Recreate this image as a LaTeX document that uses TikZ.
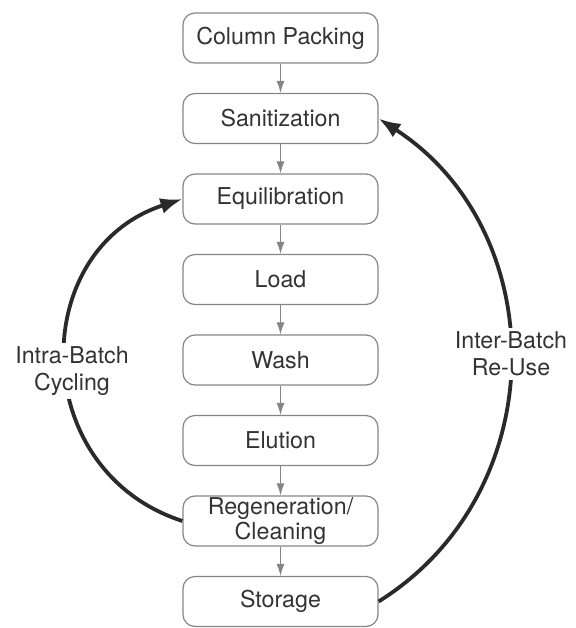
\documentclass[tikz,border=0pt]{standalone}
\usepackage{fontspec}
\setmainfont{TeX Gyre Heros}
\usetikzlibrary{arrows.meta, positioning}

\definecolor{boxline}{HTML}{858585}
\definecolor{boxtext}{HTML}{333333}
\definecolor{loopline}{HTML}{2A2A2A}

\begin{document}
\begin{tikzpicture}[x=0.5pt, y=0.5pt, >=Latex,
      stage/.style={draw=boxline, line width=0.6pt, rounded corners=6pt,
                    minimum width=97.5pt, minimum height=25pt, inner sep=0pt,
                    font=\fontsize{11.6}{10.6}\selectfont, text=boxtext, align=center},
      flow/.style={draw=boxline, line width=0.5pt, -{Latex[length=6pt, width=4pt]}},
      loop/.style={draw=loopline, line width=1.9pt, -{Latex[length=11pt, width=8pt]}},
      lbl/.style={fill=white, inner sep=2pt, font=\fontsize{11.6}{13.5}\selectfont,
                  text=boxtext, align=center}]

    % Page frame (image grid, y downwards)
    \useasboundingbox (0,0) rectangle (575,-628);

    % Column geometry
    \def\cx{280.5}
    \def\dy{80.5}

    % Stage y positions
    \pgfmathsetmacro{\yPack}{-38}
    \pgfmathsetmacro{\ySan}{\yPack - \dy}
    \pgfmathsetmacro{\yEqu}{\ySan - \dy}
    \pgfmathsetmacro{\yLoad}{\yEqu - \dy}
    \pgfmathsetmacro{\yWash}{\yLoad - \dy}
    \pgfmathsetmacro{\yElu}{\yWash - \dy}
    \pgfmathsetmacro{\yReg}{\yElu - \dy}
    \pgfmathsetmacro{\ySto}{\yReg - \dy}

    % Process stages
    \node[stage] (pack)  at (\cx, \yPack) {Column Packing};
    \node[stage] (san)   at (\cx, \ySan)  {Sanitization};
    \node[stage] (equ)   at (\cx, \yEqu)  {Equilibration};
    \node[stage] (load)  at (\cx, \yLoad) {Load};
    \node[stage] (wash)  at (\cx, \yWash) {Wash};
    \node[stage] (elu)   at (\cx, \yElu)  {Elution};
    \node[stage] (reg)   at (\cx, \yReg)  {Regeneration/\\Cleaning};
    \node[stage] (sto)   at (\cx, \ySto)  {Storage};

    % Straight flow down the column
    \draw[flow] (pack) -- (san);
    \draw[flow] (san)  -- (equ);
    \draw[flow] (equ)  -- (load);
    \draw[flow] (load) -- (wash);
    \draw[flow] (wash) -- (elu);
    \draw[flow] (elu)  -- (reg);
    \draw[flow] (reg)  -- (sto);

    % Return loops
    \draw[loop] (reg.west) to[out=162, in=198, looseness=1.3] (equ.west);
    \draw[loop] (sto.east) to[out=32, in=327, looseness=1.1] (san.east);

    % Loop labels (white fill breaks the arcs)
    \node[lbl] (intra) at (72, -371)  {Intra-Batch\\Cycling};
    \node[lbl] (inter) at (511, -354) {Inter-Batch\\Re-Use};

\end{tikzpicture}
\end{document}
